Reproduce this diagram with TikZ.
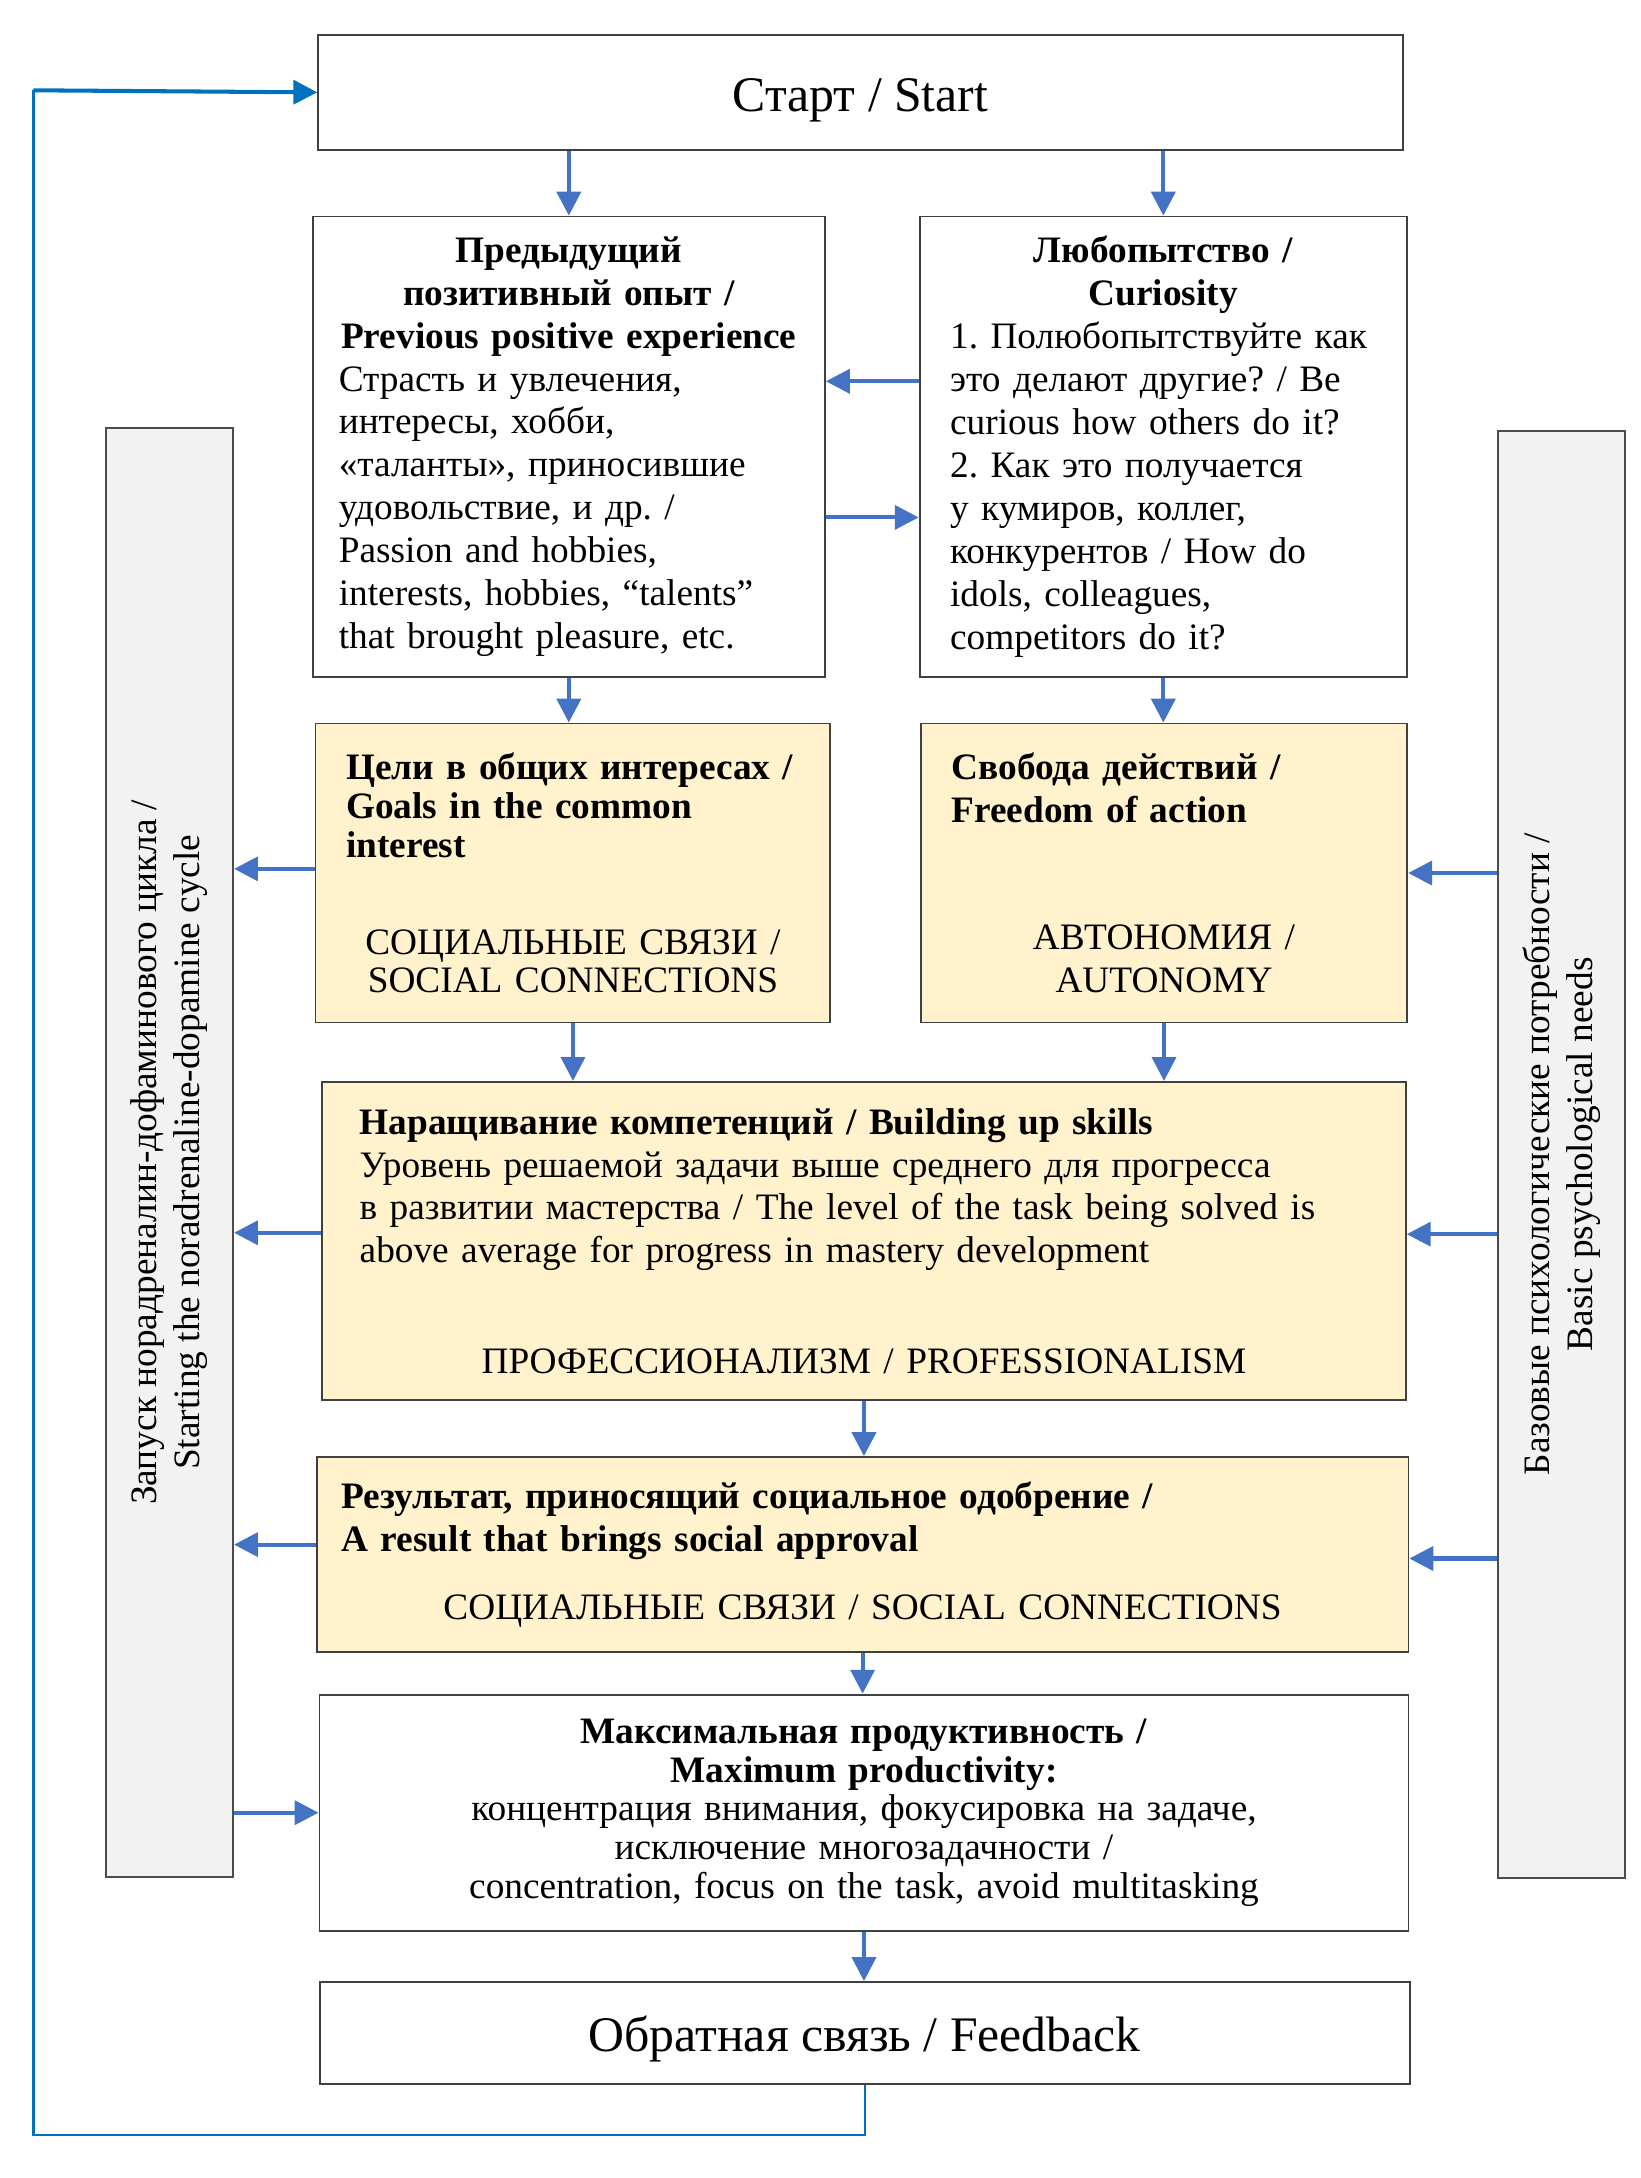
\documentclass[tikz,border=0pt]{standalone}
\usepackage{fontspec}
\setmainfont{Liberation Serif}
\frenchspacing
\usetikzlibrary{positioning,arrows.meta}
\definecolor{arrowblue}{HTML}{4472C4}
\definecolor{loopblue}{HTML}{0070C0}
\definecolor{boxyellow}{HTML}{FFF2CC}
\definecolor{bargrey}{HTML}{F2F2F2}
\tikzset {
    plain box/.style={
        draw=black!75,
        line width=0.6pt,
        fill=white,
        rectangle, % Set the shape as a rectangle
        inner sep=0pt,
        align=left,
        font=\fontsize{12}{13.8}\selectfont,
    },
    yellow box/.style={
        plain box,
        fill=boxyellow,
    },
    big box/.style={
        plain box,
        align=center,
        text height=12pt,
        text depth=0pt,
        font=\fontsize{16}{19}\selectfont,
    },
    side bar/.style={
        draw=black!70,
        line width=0.6pt,
        fill=bargrey,
        rectangle, % Set the shape as a rectangle
        rotate=90,
        inner sep=0pt,
        align=center,
        minimum height=1.44cm,
        font=\fontsize{12}{13.8}\selectfont,
    },
    flow/.style={
        draw=arrowblue,
        line width=1.3pt,
        -{Triangle[length=0.27cm,width=0.27cm]},
    },
    back line/.style={
        draw=loopblue,
        line width=0.75pt,
    },
}

\begin{document}
\begin{tikzpicture}[x=0.0157cm, y=-0.0157cm]
\useasboundingbox (0,0) rectangle (1181,1568);

\node [big box, minimum width=12.26cm, minimum height=1.30cm] (st) at (619.5,66.5) {Старт / Start};

\node [plain box, minimum width=5.79cm, minimum height=5.20cm, text width=5.2cm] (prev) at (409.5,321.5)
{{\centering\bfseries Предыдущий\\ позитивный опыт /\\ Previous positive experience\par}
Страсть и увлечения,\\ интересы, хобби,\\ «таланты», приносившие\\ удовольствие, и др. /\\
Passion and hobbies,\\ interests, hobbies, “talents”\\ that brought pleasure, etc.};

\node [plain box, minimum width=5.51cm, minimum height=5.20cm, text width=4.82cm] (cur) at (837.5,321.5)
{{\centering\bfseries Любопытство /\\ Curiosity\par}
1. Полюбопытствуйте как\\ это делают другие? / Be\\ curious how others do it?\\
2. Как это получается\\ у кумиров, коллег,\\ конкурентов / How do\\ idols, colleagues,\\ competitors do it?};

\node [yellow box, minimum width=5.82cm, minimum height=3.38cm, text width=5.13cm, font=\fontsize{12}{12.5}\selectfont] (goals) at (412.5,628.5)
{{\bfseries Цели в общих интересах /\\ Goals in the common\\ interest\par}
\vspace{18.7pt}
{\centering СОЦИАЛЬНЫЕ СВЯЗИ /\\ SOCIAL CONNECTIONS\par}};

\node [yellow box, minimum width=5.50cm, minimum height=3.38cm, text width=4.8cm] (free) at (838,628.5)
{{\bfseries Свобода действий /\\ Freedom of action\par}
\vspace{27.1pt}
{\centering АВТОНОМИЯ /\\ AUTONOMY\par}};

\node [yellow box, minimum width=12.25cm, minimum height=3.60cm, text width=11.4cm] (skills) at (622,893.5)
{{\bfseries Наращивание компетенций / Building up skills\par}
Уровень решаемой задачи выше среднего для прогресса\\
в развитии мастерства / The level of the task being solved is\\
above average for progress in mastery development\par
\vspace{21.8pt}
{\centering ПРОФЕССИОНАЛИЗМ / PROFESSIONALISM\par}};

\node [yellow box, minimum width=12.34cm, minimum height=2.20cm, text width=11.78cm] (res) at (621,1119)
{{\bfseries Результат, приносящий социальное одобрение /\\ A result that brings social approval\par}
\vspace{8pt}
{\centering СОЦИАЛЬНЫЕ СВЯЗИ / SOCIAL CONNECTIONS\par}};

\node [plain box, minimum width=12.31cm, minimum height=2.67cm, text width=11.6cm, align=center, font=\fontsize{12}{12.5}\selectfont] (maxp) at (622,1305)
{{\bfseries Максимальная продуктивность /\\ Maximum productivity:}\\
концентрация внимания, фокусировка на задаче,\\ исключение многозадачности /\\
concentration, focus on the task, avoid multitasking};

\node [big box, minimum width=12.32cm, minimum height=1.15cm] (fb) at (622.5,1463.5) {Обратная связь / Feedback};

\node [side bar, minimum width=16.38cm] (lbar) at (122,829.5)
{Запуск норадреналин-дофаминового цикла /\\ Starting the noradrenaline-dopamine cycle};
\node [side bar, minimum width=16.36cm] (rbar) at (1124,831)
{Базовые психологические потребности /\\ Basic psychological needs};

% main flow
\draw[flow] (prev.north |- st.south) -- (prev.north);
\draw[flow] (cur.north |- st.south) -- (cur.north);
\draw[flow] ([shift={(0,-47)}]cur.west) -- ([shift={(0,-47)}]prev.east);
\draw[flow] ([shift={(0,51)}]prev.east) -- ([shift={(0,51)}]cur.west);
\draw[flow] (prev.south) -- (prev.south |- goals.north);
\draw[flow] (cur.south) -- (cur.south |- free.north);
\draw[flow] (goals.south) -- (goals.south |- skills.north);
\draw[flow] (free.south) -- (free.south |- skills.north);
\draw[flow] (skills.south) -- (skills.south |- res.north);
\draw[flow] (res.south) -- (res.south |- maxp.north);
\draw[flow] (maxp.south) -- (maxp.south |- fb.north);

% side bars
\draw[flow] ([shift={(0,-3)}]goals.west) -- ([shift={(0,-3)}]goals.west -| lbar.south);
\draw[flow] ([shift={(0,-6)}]skills.west) -- ([shift={(0,-6)}]skills.west -| lbar.south);
\draw[flow] ([shift={(0,-7)}]res.west) -- ([shift={(0,-7)}]res.west -| lbar.south);
\draw[flow] (maxp.west -| lbar.south) -- (maxp.west);
\draw[flow] (free.east -| rbar.north) -- (free.east);
\draw[flow] ([shift={(0,-5)}]skills.east -| rbar.north) -- ([shift={(0,-5)}]skills.east);
\draw[flow] ([shift={(0,3)}]res.east -| rbar.north) -- ([shift={(0,3)}]res.east);

% feedback loop
\coordinate (loop bottom) at (24,1537);
\coordinate (loop top) at (24,65);
\draw[back line] (fb.south) |- (loop bottom) -- (loop top);
\draw[back line, line width=1.3pt, -{Triangle[length=0.27cm,width=0.27cm]}] (loop top) -- (st.west);

\end{tikzpicture}
\end{document}
